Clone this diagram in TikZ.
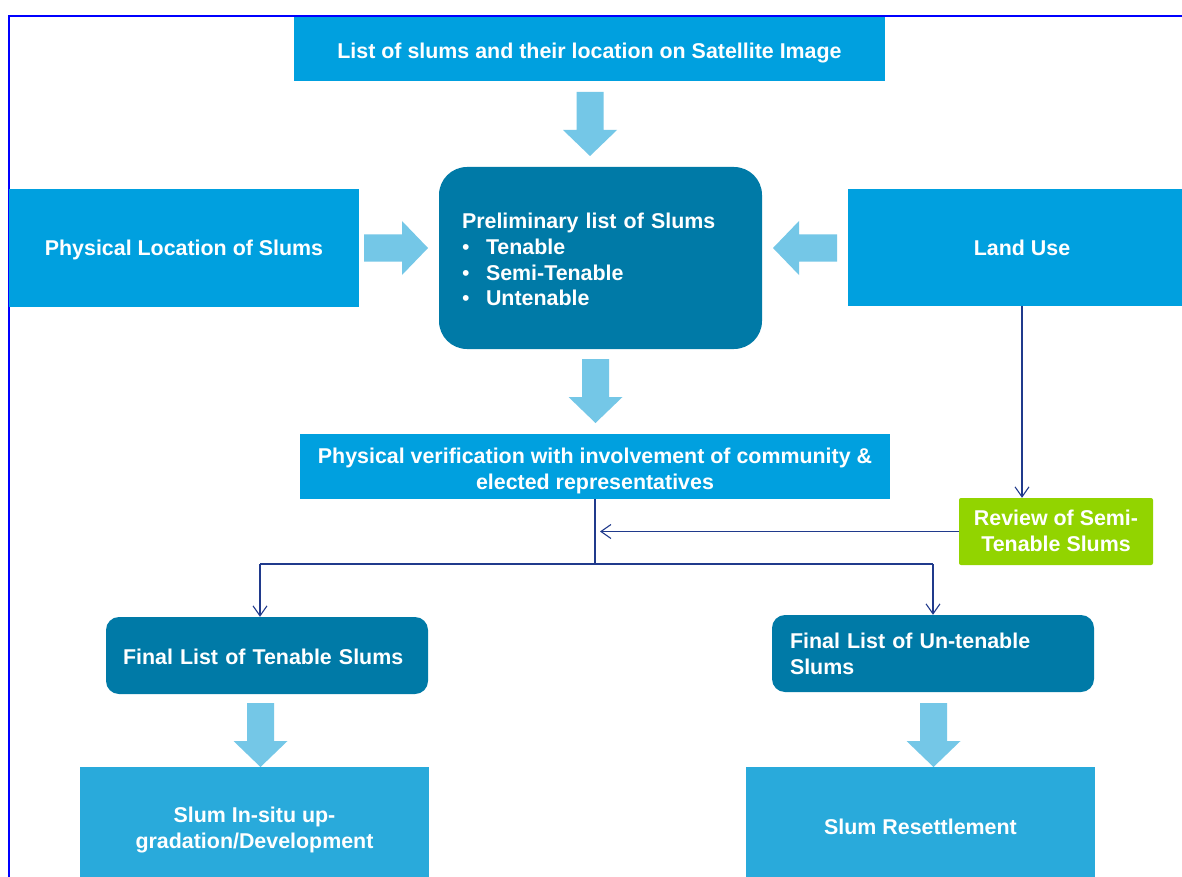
\documentclass[tikz,border=0pt]{standalone}
\usepackage{fontspec}
\setmainfont{Liberation Sans}
\usetikzlibrary{arrows.meta}
\definecolor{cblue}{RGB}{0,160,223}
\definecolor{cteal}{RGB}{0,122,167}
\definecolor{clight}{RGB}{116,199,231}
\definecolor{cgreen}{RGB}{146,212,0}
\definecolor{cbot}{RGB}{41,170,219}
\definecolor{cline}{RGB}{32,58,140}
\definecolor{cborder}{RGB}{0,0,255}
\newcommand\blockarrow[2]{%
  \fill[clight, shift={#1}, rotate=#2] (0,0) -- (-26,27) -- (-26,13.5) -- (-64,13.5) -- (-64,-13.5) -- (-26,-13.5) -- (-26,-27) -- cycle;}
\tikzset{
  box/.style={fill=cblue, text=white, font=\bfseries\fontsize{21.4}{25.7}\selectfont, align=center, inner sep=0pt, draw=none},
  tealbox/.style={box, fill=cteal},
  botbox/.style={box, fill=cbot},
  greenbox/.style={box, fill=cgreen, rounded corners=2pt},
  conn/.style={draw=cline, line width=1.2pt},
  tip/.style={-{Straight Barb[length=10pt,width=14pt,line width=1.1pt]}},
  % text placement, baseline on first line: #1 = extra lines, #2 = downward shift
  tx/.style 2 args={text height={15.5pt+2*#2}, text depth={5pt+#1*25.7pt}},
  % text placement, baseline on last line (centred multi-line text)
  txb/.style 2 args={text height={15.5pt+2*#2+#1*25.7pt}, text depth={5pt}}
}
\begin{document}
\begin{tikzpicture}[x=1pt,y=-1pt]
\useasboundingbox (0,0) rectangle (1182,877);
\fill[white] (0,0) rectangle (1182,877);
\begin{scope}
\clip (0,0) rectangle (1182,877);
\draw[cborder, line width=2pt] (9,880) -- (9,16) -- (1185,16);

\node[box, tx={0}{4pt}, minimum width=591pt, minimum height=64pt] (top) at (589.5,49) {List of slums and their location on Satellite Image};
\node[box, tx={0}{2.5pt}, minimum width=350pt, minimum height=118pt] (phys) at (184,248) {Physical Location of Slums};
\node[box, tx={0}{3pt}, minimum width=348pt, minimum height=117pt] (land) at (1022,247.5) {Land Use};
\node[tealbox, tx={3}{4pt}, rounded corners=28pt, minimum width=323pt, minimum height=182pt, inner xsep=23pt, text width=277pt, align=left] (prelim) at (600.5,258) {Preliminary list of Slums\\
\makebox[24pt][l]{\normalfont\fontsize{21.4}{25.7}\selectfont •}Tenable\\
\makebox[24pt][l]{\normalfont\fontsize{21.4}{25.7}\selectfont •}Semi-Tenable\\
\makebox[24pt][l]{\normalfont\fontsize{21.4}{25.7}\selectfont •}Untenable};
\node[box, txb={1}{4.5pt}, minimum width=590pt, minimum height=65pt] (verif) at (595,466.5) {Physical verification with involvement of community \&\\elected representatives};
\node[greenbox, txb={1}{1.5pt}, minimum width=194pt, minimum height=67pt] (review) at (1056,531.5) {Review of Semi-\\Tenable Slums};
\node[tealbox, tx={0}{3.5pt}, rounded corners=13pt, minimum width=322pt, minimum height=77pt, inner xsep=17pt, text width=288pt, align=left] (tenable) at (267,655.5) {Final List of Tenable Slums};
\node[tealbox, tx={1}{3pt}, rounded corners=13pt, minimum width=322pt, minimum height=77pt, inner xsep=18pt, text width=286pt, align=left] (untenable) at (933,653.5) {Final List of Un-tenable\\Slums};
\node[botbox, txb={1}{3pt}, minimum width=349pt, minimum height=120pt] (insitu) at (254.5,827) {Slum In-situ up-\\gradation/Development};
\node[botbox, tx={0}{2.5pt}, minimum width=349pt, minimum height=120pt] (resettle) at (920.5,827) {Slum Resettlement};

\blockarrow{(590,156)}{-90}
\blockarrow{(595.5,423)}{-90}
\blockarrow{(260.5,767)}{-90}
\blockarrow{(933.5,767)}{-90}
\blockarrow{(428,248)}{0}
\blockarrow{(773,248)}{180}

\coordinate (j) at (595,564);
\coordinate (jl) at (260,564);
\coordinate (jr) at (933,564);
\coordinate (ar) at (600,531.5);
\draw[conn] (verif.south) -- (j);
\draw[conn] (jl) -- (jr);
\draw[conn,tip] (jl) -- (jl |- tenable.north);
\draw[conn,tip] (jr) -- (untenable.north);
\draw[conn,tip] (land.south) -- (review.north -| land.south);
\draw[conn,tip] (review.west) -- (ar);
\end{scope}
\end{tikzpicture}
\end{document}
